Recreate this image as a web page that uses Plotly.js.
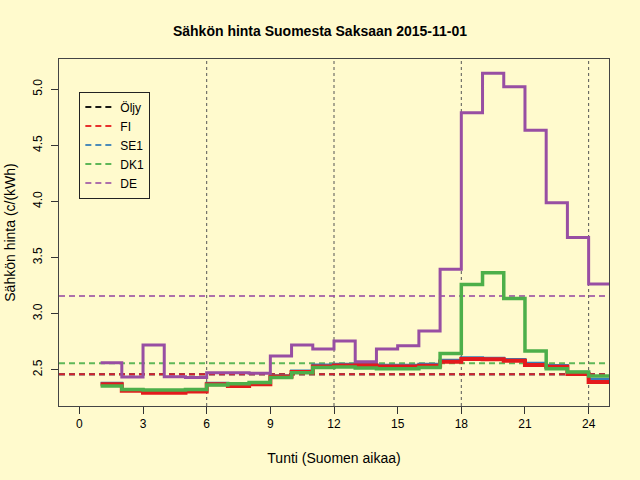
<!DOCTYPE html>
<html>
<head>
<meta charset="utf-8">
<script src="https://cdn.plot.ly/plotly-3.0.1.min.js"></script>
<style>
  html, body { margin: 0; padding: 0; background: #fffacd; }
  #chart { width: 640px; height: 480px; }
</style>
</head>
<body>
<div id="chart"></div>
<script>
// tunnit 1..24, viimeinen piste toistetaan jotta porras piirtyy loppuun
const hours = Array.from({ length: 25 }, (_, i) => i + 1)

const fi = [2.37, 2.313, 2.295, 2.295, 2.307, 2.37, 2.355, 2.37, 2.44, 2.48, 2.53, 2.539,
  2.54, 2.53, 2.53, 2.535, 2.571, 2.595, 2.593, 2.58, 2.542, 2.527, 2.462, 2.39]
const se1 = [2.38, 2.32, 2.305, 2.305, 2.315, 2.38, 2.365, 2.38, 2.447, 2.49, 2.542, 2.55,
  2.548, 2.54, 2.54, 2.55, 2.585, 2.607, 2.603, 2.592, 2.558, 2.538, 2.478, 2.415]
const dk1 = [2.355, 2.325, 2.319, 2.319, 2.325, 2.364, 2.375, 2.387, 2.432, 2.473, 2.52, 2.524,
  2.515, 2.509, 2.509, 2.521, 2.646, 3.261, 3.365, 3.136, 2.667, 2.509, 2.479, 2.444]
const de = [2.562, 2.435, 2.72, 2.438, 2.43, 2.473, 2.473, 2.468, 2.622, 2.72, 2.685, 2.756,
  2.571, 2.685, 2.714, 2.845, 3.395, 4.79, 5.142, 5.022, 4.636, 3.989, 3.68, 3.264]

// keskiarvot (katkoviivat)
const names = ['Öljy', 'FI', 'SE1', 'DK1', 'DE']
const means = [2.459, 2.459, 2.459, 2.557, 3.157]
const colors = ['#000000', '#e41a1c', '#377eb8', '#4daf4a', '#984ea3']

const xTicks = [0, 3, 6, 9, 12, 15, 18, 21, 24]
const yTicks = [2.5, 3.0, 3.5, 4.0, 4.5, 5.0]
const vLines = [6, 12, 18, 24]

const xRange = [-0.96, 24.96]
const yRange = [2.177, 5.27]

const stepOf = arr => arr.concat(arr[arr.length - 1])

// SE1 piirretään FI:n alle, FI on hieman paksumpi
const series = [
  { name: 'SE1', y: se1, color: colors[2], width: 3 },
  { name: 'FI', y: fi, color: colors[1], width: 4 },
  { name: 'DK1', y: dk1, color: colors[3], width: 3.5 },
  { name: 'DE', y: de, color: colors[4], width: 3 },
]

// piirtojärjestys: Öljy ja SE1 jäävät FI:n alle
const dashOrder = [0, 2, 1, 3, 4]
const dashed = dashOrder.map(i => ({
  x: xRange,
  y: [means[i], means[i]],
  mode: 'lines',
  name: names[i],
  legendrank: i + 1,
  line: { color: colors[i], dash: '6px,4px', width: 2 },
  opacity: i === 4 ? 0.8 : 0.9,
  hoverinfo: 'skip',
}))

const steps = series.map(s => ({
  x: hours,
  y: stepOf(s.y),
  mode: 'lines',
  name: s.name,
  showlegend: false,
  line: { color: s.color, width: s.width, shape: 'hv' },
}))

const layout = {
  width: 640,
  height: 480,
  paper_bgcolor: '#fffacd',
  plot_bgcolor: '#fffacd',
  font: { family: 'Liberation Sans, Arial, sans-serif', size: 12, color: '#000' },
  margin: { l: 59, r: 31, t: 59, b: 74 },
  title: {
    text: '<b>Sähkön hinta Suomesta Saksaan 2015-11-01</b>',
    font: { size: 14 },
    x: 0.5, xanchor: 'center',
    y: 0.935, yanchor: 'middle',
  },
  xaxis: {
    title: { text: 'Tunti (Suomen aikaa)', standoff: 22 },
    range: xRange,
    tickvals: xTicks,
    ticks: 'outside', ticklen: 7, tickcolor: '#333',
    showline: true, mirror: true, linecolor: '#444',
    showgrid: false, zeroline: false,
  },
  yaxis: {
    title: { text: 'Sähkön hinta (c/(kWh)', standoff: 12 },
    range: yRange,
    tickvals: yTicks,
    tickformat: '.1f',
    tickangle: -90,
    ticklabelstandoff: 4,
    ticks: 'outside', ticklen: 7, tickcolor: '#333',
    showline: true, mirror: true, linecolor: '#444',
    showgrid: false, zeroline: false,
  },
  shapes: vLines.map(v => ({
    type: 'line', xref: 'x', yref: 'paper',
    x0: v, x1: v, y0: 0, y1: 1,
    line: { color: '#555', width: 1, dash: 'dot' },
    layer: 'below',
  })),
  showlegend: true,
  legend: {
    x: 0.037, y: 0.906, xanchor: 'left', yanchor: 'top',
    bgcolor: 'rgba(0,0,0,0)',
    bordercolor: '#222', borderwidth: 1,
    font: { size: 12 },
    traceorder: 'normal',
  },
}

Plotly.newPlot('chart', [...dashed, ...steps], layout, { displayModeBar: false, staticPlot: true })
</script>
</body>
</html>
